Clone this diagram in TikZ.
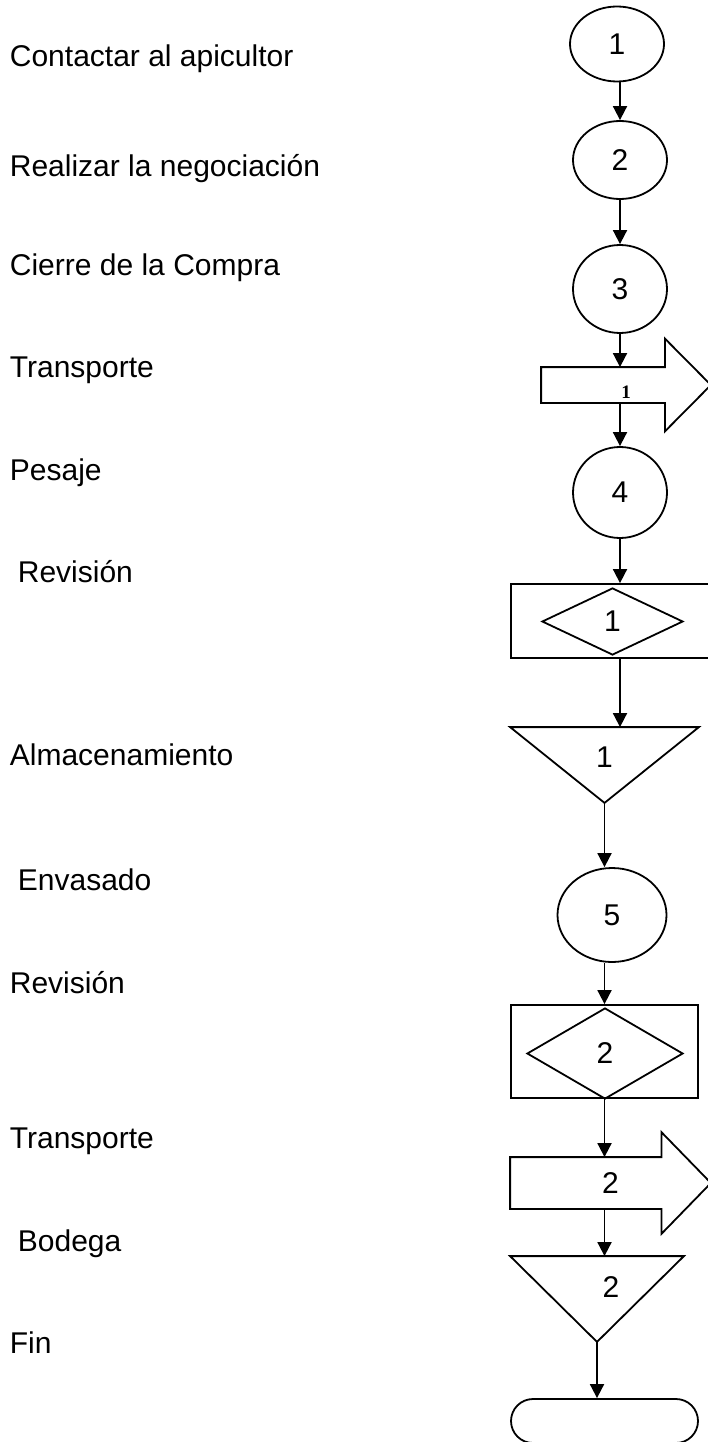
\documentclass[tikz,border=0pt]{standalone}
\usepackage{fontspec}
\setmainfont{Liberation Sans}
\newfontfamily\numfont{Liberation Serif}
\usetikzlibrary{shapes.geometric,shapes.misc,arrows.meta}

\begin{document}
\begin{tikzpicture}[x=1pt, y=1pt, line width=1.8pt,
	num/.style = {font=\fontsize{30}{32}\selectfont},
	op/.style = {draw, ellipse, inner sep=0pt, num},
	box/.style = {inner sep=0pt, num},
	act/.style = {anchor=base west, inner sep=0pt, font=\fontsize{30}{34}\selectfont},
	flow/.style = {-{Triangle[length=14pt, width=14pt]}}]
	\useasboundingbox (0,0) rectangle (707,-1442);

	% activities on the left
	\node[act] (a1) at (9,-67) {Contactar al apicultor};
	\node[act] (a2) at (9,-177) {Realizar la negociación};
	\node[act] (a3) at (9,-275) {Cierre de la Compra};
	\node[act] (a4) at (9,-377) {Transporte};
	\node[act] (a5) at (9,-480) {Pesaje};
	\node[act] (a6) at (17,-582) {Revisión};
	\node[act] (a7) at (9,-765) {Almacenamiento};
	\node[act] (a8) at (17,-890) {Envasado};
	\node[act] (a9) at (9,-993) {Revisión};
	\node[act] (a10) at (9,-1148) {Transporte};
	\node[act] (a11) at (17,-1251) {Bodega};
	\node[act] (a12) at (9,-1353) {Fin};

	% operations
	\node[op, minimum width=94, minimum height=75] (o1) at (617,-44) {1};
	\node[op, minimum width=94, minimum height=78] (o2) at (620,-160) {2};
	\node[op, minimum width=94, minimum height=88] (o3) at (620,-289) {3};
	\node[op, minimum width=94, minimum height=91] (o4) at (620,-492.5) {4};
	\node[op, minimum width=109, minimum height=94] (o5) at (612,-915) {5};

	% transports
	\node[box, minimum width=168, minimum height=34,
		label={[yshift=-7pt, font=\numfont\bfseries\fontsize{19}{20}\selectfont]center:1}] (t1) at (626,-385) {};
	\draw (t1.south west) -- (t1.north west) -- ([xshift=-46pt]t1.north east) -- ++(0,28.5)
		-- (t1.east) -- ([xshift=-46pt, yshift=-28.5pt]t1.south east) -- ([xshift=-46pt]t1.south east) -- cycle;
	\node[box, minimum width=199, minimum height=50] (t2) at (610.5,-1183) {2};
	\draw (t2.south west) -- (t2.north west) -- ([xshift=-49.5pt]t2.north east) -- ++(0,25)
		-- (t2.east) -- ([xshift=-49.5pt, yshift=-25pt]t2.south east) -- ([xshift=-49.5pt]t2.south east) -- cycle;

	% inspections
	\node[draw, box, minimum width=198, minimum height=74] (r1) at (610,-621) {};
	\node[draw, box, diamond, minimum width=141, minimum height=67] (d1) at (612.5,-621.5) {1};
	\node[draw, box, minimum width=187, minimum height=93] (r2) at (604.5,-1051.5) {};
	\node[draw, box, diamond, minimum width=156, minimum height=91] (d2) at (605,-1053.5) {2};

	% storages
	\node[box, minimum width=187, minimum height=74, label={[num, yshift=8pt]center:1}] (s1) at (604.5,-765) {};
	\draw (s1.north west) -- (s1.north east) -- (s1.south) -- cycle;
	\node[box, minimum width=172, minimum height=84, label={[num, xshift=14pt, yshift=12pt]center:2}] (s2) at (597,-1299) {};
	\draw (s2.north west) -- (s2.north east) -- (s2.south) -- cycle;

	% end
	\node[draw, rounded rectangle, inner sep=0pt, minimum width=187, minimum height=44] (fin) at (604.5,-1421) {};

	% flow
	\draw[flow] (o1.south -| o2) -- (o2);
	\draw[flow] (o2) -- (o3);
	\draw[flow] (o3) -- (o3 |- t1.north);
	\draw[flow] (o4 |- t1.south) -- (o4);
	\draw[flow] (o4) -- (o4 |- r1.north);
	\draw[flow] (o4 |- r1.south) -- (o4 |- s1.north);
	\draw[flow] (s1.south) -- (s1.south |- o5.north);
	\draw[flow] (o5.south -| r2) -- (r2.north);
	\draw[flow] (r2.south) -- (r2.south |- t2.north);
	\draw[flow] (r2 |- t2.south) -- (r2 |- s2.north);
	\draw[flow] (s2.south) -- (s2.south |- fin.north);
\end{tikzpicture}
\end{document}
